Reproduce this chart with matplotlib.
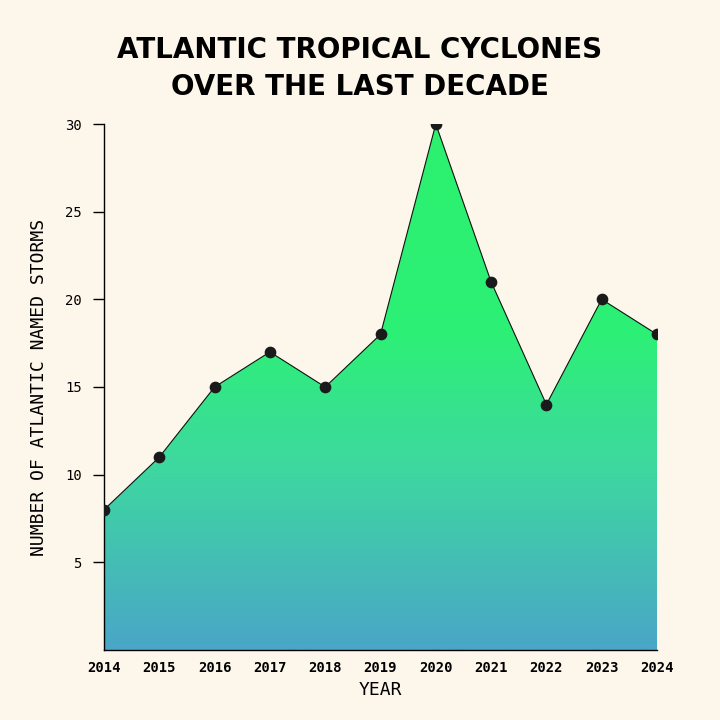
import matplotlib
matplotlib.use("Agg")
import matplotlib.pyplot as plt
import numpy as np
from matplotlib.colors import LinearSegmentedColormap

years = [2014, 2015, 2016, 2017, 2018, 2019, 2020, 2021, 2022, 2023, 2024]
storms = [8, 11, 15, 17, 15, 18, 30, 21, 14, 20, 18]
yticks = [5, 10, 15, 20, 25, 30]

bg = "#fdf6ea"
fig = plt.figure(figsize=(7.2, 7.2), dpi=100, facecolor=bg)
ax = fig.add_axes([104/720, 70/720, 553/720, 526/720], facecolor=bg)

cmap = LinearSegmentedColormap.from_list("g", [(0, "#4aa6c8"), (0.35, "#3ed8a0"), (0.6, "#2df076"), (1, "#2cf06e")])
grad = np.linspace(0, 1, 256).reshape(-1, 1)
im = ax.imshow(grad, aspect="auto", cmap=cmap, origin="lower",
               extent=[years[0], years[-1], 0, 30], zorder=1)
poly = ax.fill_between(years, storms, 0, color="none")
verts = list(zip(years, storms)) + [(years[-1], 0), (years[0], 0)]
from matplotlib.patches import Polygon
clip = Polygon(verts, closed=True, transform=ax.transData)
im.set_clip_path(clip)
ax.plot(years, storms, color="#111111", lw=0.8, zorder=2)
ax.scatter(years, storms, s=55, color="#1a1a1a", zorder=3)

ax.set_xlim(years[0], years[-1])
ax.set_ylim(0, 30)
ax.set_xticks(years)
ax.set_xticklabels([str(y) for y in years], fontfamily="DejaVu Sans Mono", fontweight="bold", fontsize=10)
ax.set_yticks(yticks)
ax.set_yticklabels([str(y) for y in yticks], fontfamily="DejaVu Sans Mono", fontsize=10)
ax.tick_params(axis="x", length=0, pad=8)
ax.tick_params(axis="y", length=8, pad=8, width=1)
for s in ["top", "right"]:
    ax.spines[s].set_visible(False)
ax.spines["left"].set_linewidth(1)
ax.spines["bottom"].set_linewidth(1)
ax.set_xlabel("YEAR", fontfamily="DejaVu Sans Mono", fontsize=13, labelpad=4)
ax.set_ylabel("NUMBER OF ATLANTIC NAMED STORMS", fontfamily="DejaVu Sans Mono", fontsize=13, labelpad=12)
fig.text(0.5, 0.905, "ATLANTIC TROPICAL CYCLONES\nOVER THE LAST DECADE", ha="center", va="center",
         fontsize=20, fontweight="heavy", fontfamily="DejaVu Sans", linespacing=1.4)
fig.savefig("out.png", dpi=100, facecolor=bg)
